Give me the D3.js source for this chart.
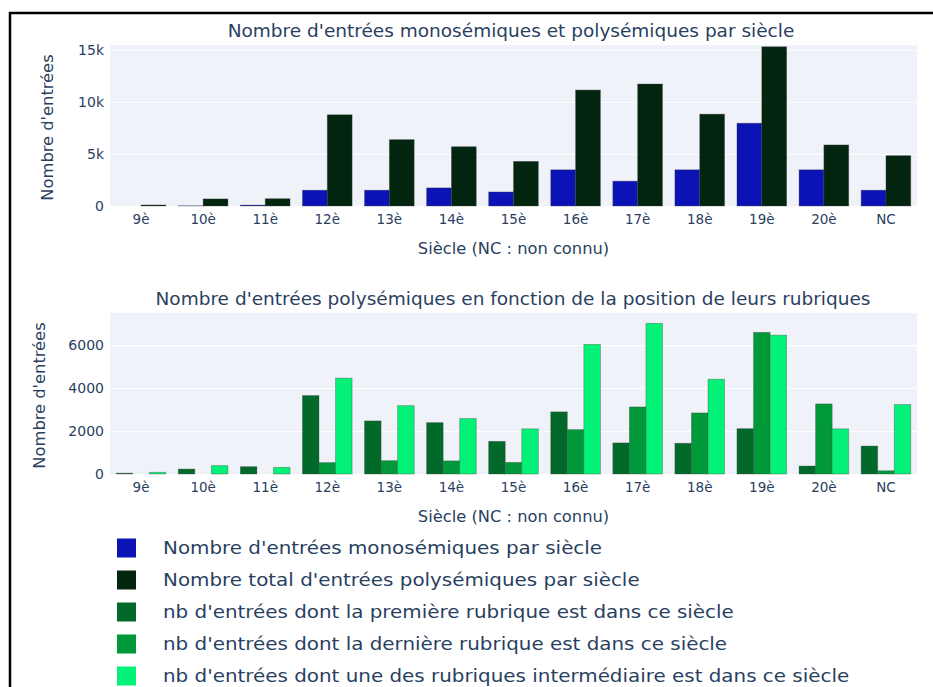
<!DOCTYPE html>
<html>
<head>
<meta charset="utf-8">
<script src="https://cdn.jsdelivr.net/npm/d3@7"></script>
<style>
    body { margin: 0; background: #ffffff; }
    svg text { font-family: "DejaVu Sans", Verdana, sans-serif; fill: #2a3f5f; }
</style>
</head>
<body>
<svg id="chart" width="933" height="687"></svg>
<script>
// siècles et valeurs
const categories = ['9è', '10è', '11è', '12è', '13è', '14è', '15è', '16è', '17è', '18è', '19è', '20è', 'NC'];

const monosemiques = [0, 20, 90, 1520, 1520, 1740, 1350, 3480, 2390, 3480, 7960, 3480, 1520];
const polysemiquesTotal = [100, 680, 700, 8770, 6380, 5700, 4290, 11150, 11730, 8830, 15310, 5870, 4840];

const premiereRubrique = [40, 230, 340, 3650, 2470, 2390, 1520, 2890, 1445, 1430, 2110, 370, 1300];
const derniereRubrique = [0, 0, 0, 530, 620, 610, 540, 2065, 3120, 2840, 6590, 3260, 150];
const rubriqueIntermediaire = [80, 390, 310, 4460, 3180, 2580, 2100, 6030, 7010, 4410, 6460, 2100, 3230];

const topTicks = [0, 5000, 10000, 15000];
const bottomTicks = [0, 2000, 4000, 6000];

const legendLabels = [
    "Nombre d'entrées monosémiques par siècle",
    "Nombre total d'entrées polysémiques par siècle",
    "nb d'entrées dont la première rubrique est dans ce siècle",
    "nb d'entrées dont la dernière rubrique est dans ce siècle",
    "nb d'entrées dont une des rubriques intermédiaire est dans ce siècle"
];
const colors = ['#0b12b6', '#03240f', '#016a2a', '#00993a', '#03f176'];

const svg = d3.select('#chart');

// cadre noir (haut et gauche)
svg.append('path')
    .attr('d', 'M10,687 L10,13 L933,13')
    .attr('fill', 'none')
    .attr('stroke', '#000')
    .attr('stroke-width', 2.5);

const plotLeft = 110;
const plotRight = 917;

/**
 * dessine un graphique à barres groupées
 */
function draw_panel(opts) {
    const g = svg.append('g');
    const height = opts.bottom - opts.top;

    const xScale = d3.scaleBand()
        .domain(categories)
        .range([plotLeft, plotRight])
        .paddingInner(0.2)
        .paddingOuter(0.1);

    const inner = d3.scaleBand()
        .domain(d3.range(opts.series.length))
        .range([0, xScale.bandwidth()]);

    const yScale = d3.scaleLinear()
        .domain([0, opts.max])
        .range([opts.bottom, opts.top]);

    // fond
    g.append('rect')
        .attr('x', plotLeft)
        .attr('y', opts.top)
        .attr('width', plotRight - plotLeft)
        .attr('height', height)
        .attr('fill', '#eff2f9');

    // grille
    g.append('g')
        .attr('transform', `translate(${plotLeft},0)`)
        .call(d3.axisLeft(yScale).tickValues(opts.ticks).tickSize(-(plotRight - plotLeft)).tickFormat(''))
        .call((a) => a.select('.domain').remove())
        .call((a) => a.selectAll('line').attr('stroke', '#ffffff').attr('stroke-width', 1.2));

    // barres
    opts.series.forEach((values, si) => {
        g.append('g')
            .selectAll('rect')
            .data(values)
            .enter()
            .append('rect')
            .attr('x', (d, i) => xScale(categories[i]) + inner(si))
            .attr('y', (d) => yScale(d))
            .attr('width', inner.bandwidth())
            .attr('height', (d) => yScale(0) - yScale(d))
            .attr('fill', opts.colors[si])
            .attr('stroke', 'rgba(70,70,70,0.45)')
            .attr('stroke-width', 0.8);
    });

    // axe y
    g.append('g')
        .attr('transform', `translate(${plotLeft},0)`)
        .call(d3.axisLeft(yScale).tickValues(opts.ticks).tickSize(0).tickPadding(6).tickFormat(opts.format))
        .call((a) => a.select('.domain').remove())
        .call((a) => a.selectAll('text').attr('font-size', 14).style('font-family', '"DejaVu Sans", sans-serif').attr('fill', '#2a3f5f'));

    // axe x
    g.append('g')
        .attr('transform', `translate(0,${opts.bottom})`)
        .call(d3.axisBottom(xScale).tickSize(0).tickPadding(8))
        .call((a) => a.select('.domain').remove())
        .call((a) => a.selectAll('text').attr('font-size', 13.5).style('font-family', '"DejaVu Sans", sans-serif').attr('fill', '#2a3f5f'));

    // titre
    svg.append('text')
        .attr('x', opts.titleX)
        .attr('y', opts.top - 8)
        .attr('text-anchor', 'middle')
        .attr('font-size', 18.5)
        .text(opts.title);

    // titre axe y
    svg.append('text')
        .attr('transform', `translate(${opts.yTitleX},${(opts.top + opts.bottom) / 2 + 2}) rotate(-90)`)
        .attr('text-anchor', 'middle')
        .attr('font-size', 16.3)
        .text("Nombre d'entrées");

    // titre axe x
    svg.append('text')
        .attr('x', (plotLeft + plotRight) / 2)
        .attr('y', opts.bottom + 48)
        .attr('text-anchor', 'middle')
        .attr('font-size', 16.3)
        .text('Siècle (NC : non connu)');
}

draw_panel({
    top: 45,
    bottom: 206,
    max: 15480,
    ticks: topTicks,
    format: (d) => d === 0 ? '0' : (d / 1000) + 'k',
    series: [monosemiques, polysemiquesTotal],
    colors: [colors[0], colors[1]],
    title: "Nombre d'entrées monosémiques et polysémiques par siècle",
    titleX: 511,
    yTitleX: 53
});

draw_panel({
    top: 313,
    bottom: 474,
    max: 7490,
    ticks: bottomTicks,
    format: d3.format('d'),
    series: [premiereRubrique, derniereRubrique, rubriqueIntermediaire],
    colors: [colors[2], colors[3], colors[4]],
    title: "Nombre d'entrées polysémiques en fonction de la position de leurs rubriques",
    titleX: 513,
    yTitleX: 45
});

// légende (texte un peu étiré comme sur l'original)
const legend = svg.append('g');
const legendY = d3.scalePoint()
    .domain(d3.range(legendLabels.length))
    .range([548, 676]);

legendLabels.forEach((label, i) => {
    const y = legendY(i);
    legend.append('rect')
        .attr('x', 117)
        .attr('y', y - 9.5)
        .attr('width', 19)
        .attr('height', 19)
        .attr('fill', colors[i]);
    legend.append('text')
        .attr('transform', `translate(163,${y + 6}) scale(1.17,1)`)
        .attr('font-size', 17)
        .attr('fill', '#2a3f5f')
        .text(label);
});
</script>
</body>
</html>
